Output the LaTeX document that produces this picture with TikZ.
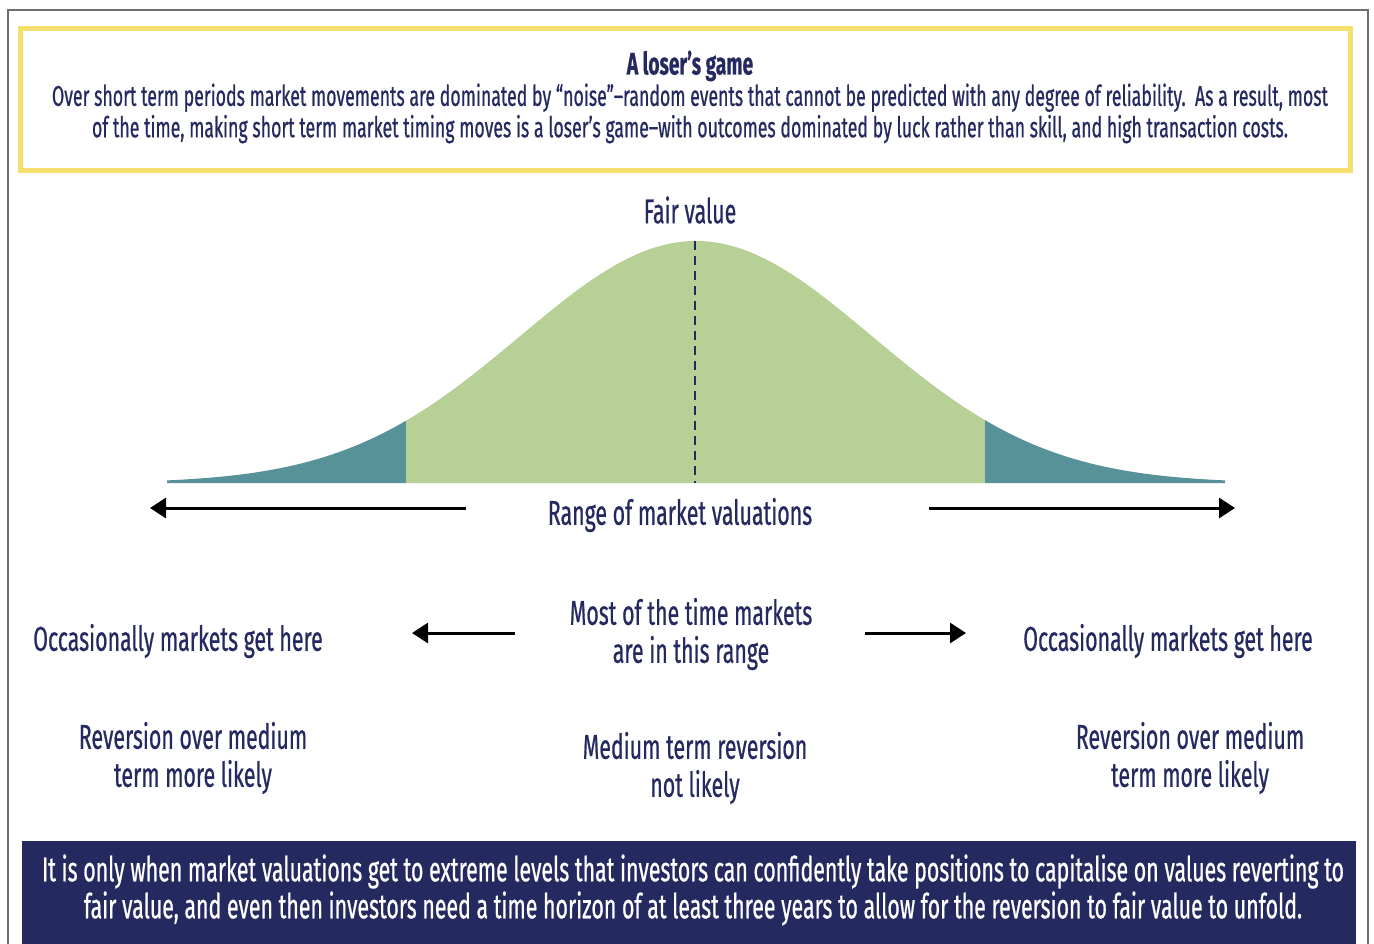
\documentclass[tikz,border=0pt]{standalone}
\usepackage{fontspec}
\setmainfont{Fira Sans}[FakeStretch=0.62, FakeBold=0.6]
\usetikzlibrary{arrows.meta}
\definecolor{navy}{RGB}{36,41,96}
\definecolor{bellgreen}{RGB}{183,208,149}
\definecolor{tailteal}{RGB}{87,146,153}
\definecolor{bandyellow}{RGB}{245,224,110}
\definecolor{framegray}{RGB}{110,110,110}

\begin{document}
\begin{tikzpicture}[x=0.5pt, y=-0.5pt,
  lbl/.style={text=navy, font=\fontsize{17.2}{19}\selectfont, align=center, inner sep=0pt},
  note/.style={text=navy, font=\fontsize{14.3}{15.7}\selectfont, align=center, inner sep=0pt},
  arr/.style={-{Triangle[length=8pt, width=10pt]}, line width=1.5pt, black}]
\useasboundingbox (0,0) rectangle (1374,943);
\draw[framegray, line width=1pt] (8,10) rectangle (1368,980);
\node[draw=bandyellow, line width=2.5pt, minimum width=665pt, minimum height=71pt, inner sep=0pt] (intro) at (685,99) {};
\node[note] (introtext) at (690,97) {{\fontsize{15.5}{15.7}\selectfont\bfseries A loser’s game}\\Over short term periods market movements are dominated by “noise”–random events that cannot be predicted with any degree of reliability.\ \ As a result, most\\of the time, making short term market timing moves is a loser’s game–with outcomes dominated by luck rather than skill, and high transaction costs.};
% bell curve
\fill[tailteal] (167,483) -- plot[domain=167:406, samples=50] (\x, {483-242*exp(-0.5*((\x-696)/176)^2)}) -- (406,483) -- cycle;
\fill[bellgreen] (406,483) -- plot[domain=406:985, samples=120] (\x, {483-242*exp(-0.5*((\x-696)/176)^2)}) -- (985,483) -- cycle;
\fill[tailteal] (985,483) -- plot[domain=985:1225, samples=50] (\x, {483-242*exp(-0.5*((\x-696)/176)^2)}) -- (1225,483) -- cycle;
\coordinate (peak) at (695,241);
\coordinate (base) at (695,483);
\draw[navy, line width=1pt, dash pattern=on 4.5pt off 3pt] (peak) -- (base);
\node[lbl] (fair) at (690,210) {Fair value};
\node[lbl] (range) at (680,515) {Range of market valuations};
\coordinate (rangeL) at (466,508);
\coordinate (rangeLend) at (150,508);
\coordinate (rangeR) at (929,508);
\coordinate (rangeRend) at (1235,508);
\draw[arr] (rangeL) -- (rangeLend);
\draw[arr] (rangeR) -- (rangeRend);
\node[lbl] (occL) at (178,641) {Occasionally markets get here};
\node[lbl] (most) at (691,634) {Most of the time markets\\are in this range};
\node[lbl] (occR) at (1168,641) {Occasionally markets get here};
\coordinate (mostL) at (515,633);
\coordinate (mostLend) at (412,633);
\coordinate (mostR) at (865,633);
\coordinate (mostRend) at (966,633);
\draw[arr] (mostL) -- (mostLend);
\draw[arr] (mostR) -- (mostRend);
\node[lbl] (revL) at (193,758) {Reversion over medium\\term more likely};
\node[lbl] (medium) at (695,768) {Medium term reversion\\not likely};
\node[lbl] (revR) at (1190,758) {Reversion over medium\\term more likely};
\fill[navy] (22,841) rectangle (1356,980);
\node[lbl, text=white, font=\fontsize{17.2}{18.5}\selectfont] (closing) at (693,890) {It is only when market valuations get to extreme levels that investors can confidently take positions to capitalise on values reverting to\\fair value, and even then investors need a time horizon of at least three years to allow for the reversion to fair value to unfold.};
\end{tikzpicture}
\end{document}
